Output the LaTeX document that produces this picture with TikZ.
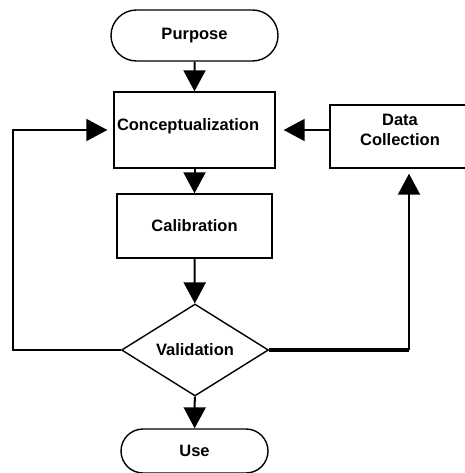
\documentclass[tikz,border=0pt]{standalone}
\usepackage{fontspec}
\setmainfont{Liberation Sans}
\usetikzlibrary{arrows.meta,shapes.geometric,shapes.misc}

\tikzset{
  flowtext/.style={font=\fontsize{16.5}{20}\selectfont\bfseries, inner sep=0pt},
  pill/.style={flowtext, draw, line width=1.4pt, rounded rectangle},
  stepbox/.style={flowtext, draw, line width=1.4pt, rectangle},
  decision/.style={flowtext, draw, line width=1.4pt, diamond, aspect=1.6},
  conn/.style={line width=2pt, -{Triangle[width=22pt,length=21pt]}}
}

\begin{document}
\begin{tikzpicture}[x=1pt,y=1pt]
\useasboundingbox (0,0) rectangle (464,-473);

\node[pill, minimum width=167pt, minimum height=51pt] (purpose) at (194.5,-35.5) {Purpose};
\node[stepbox, minimum width=161pt, minimum height=76pt, text width=155pt, align=left, text depth=11.5pt] (concept) at (194.5,-130) {Conceptualization};
\node[stepbox, minimum width=155pt, minimum height=64pt] (calib) at (194.5,-226) {Calibration};
\node[decision, minimum width=147pt, minimum height=92pt] (valid) at (195,-350) {Validation};
\node[pill, minimum width=147pt, minimum height=44pt] (use) at (194.5,-451) {Use};
\node[stepbox, minimum width=140pt, minimum height=63pt, align=center, text depth=13pt] (data) at (400,-136.5) {Data\\Collection};

\coordinate (leftx) at (13,0);
\coordinate (rightx) at (409,0);

\draw[conn] (purpose) -- (concept);
\draw[conn] (concept) -- (calib);
\draw[conn] (calib) -- (valid);
\draw[conn] (valid) -- (use);

% loop back from validation
\draw[conn, shorten >=6pt] (valid.west) -- (valid.west -| leftx) -- (concept.west -| leftx) -- (concept.west);
\draw[line width=4pt] (valid.east) -- (valid.east -| rightx);
\draw[conn, shorten >=5pt] (valid.east -| rightx) -- (data.south -| rightx);
\draw[conn, shorten >=8pt] (data.west |- concept.east) -- (concept.east);
\end{tikzpicture}
\end{document}
